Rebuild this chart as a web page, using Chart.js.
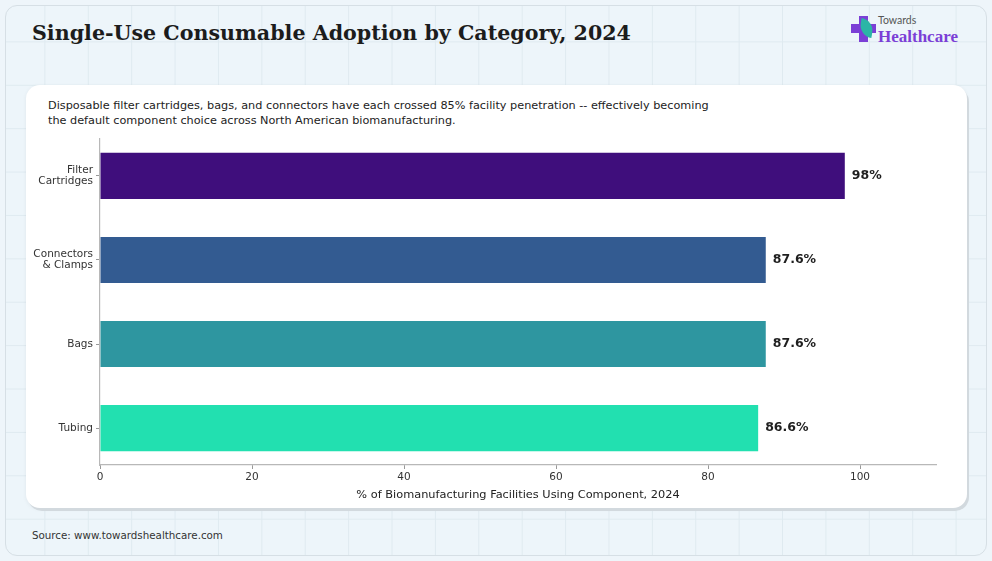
<!DOCTYPE html>
<html>
<head>
<meta charset="utf-8">
<script src="https://cdn.jsdelivr.net/npm/chart.js@4"></script>
<style>
  html, body {
    margin: 0;
    padding: 0;
    width: 992px;
    height: 561px;
    overflow: hidden;
    background: #eef5fa;
    font-family: "DejaVu Sans", sans-serif;
  }

  .frame {
    position: absolute;
    left: 5px;
    top: 5px;
    width: 980px;
    height: 549px;
    border: 1px solid #d6dfe5;
    border-radius: 12px;
    background-color: #edf5fa;
    background-image:
      linear-gradient(to right, #dfeaf0 1px, transparent 1px),
      linear-gradient(to bottom, #dfeaf0 1px, transparent 1px);
    background-size: 43.4px 43.4px;
    background-position: -5px -8px;
  }

  .title {
    position: absolute;
    left: 32px;
    top: 21px;
    font-family: "DejaVu Serif", serif;
    font-weight: bold;
    font-size: 20.6px;
    color: #1c1c1c;
    white-space: nowrap;
  }

  .card {
    position: absolute;
    left: 26px;
    top: 85px;
    width: 941px;
    height: 423px;
    background: #ffffff;
    border-radius: 14px;
    box-shadow: 2px 3px 0 #d2d9de, 0 1px 4px rgba(0,0,0,0.06);
  }

  .subtitle {
    position: absolute;
    left: 48px;
    top: 98px;
    font-size: 11.25px;
    line-height: 15px;
    color: #222;
    white-space: nowrap;
  }

  .source {
    position: absolute;
    left: 32px;
    top: 529px;
    font-size: 10.3px;
    color: #333;
  }

  .logo {
    position: absolute;
    left: 851px;
    top: 14px;
    width: 120px;
    height: 34px;
  }
  .logo .pv, .logo .ph {
    position: absolute;
    background: #7b3fd6;
  }
  .logo .pv { left: 8px; top: 2px; width: 9px; height: 26px; }
  .logo .ph { left: 0; top: 10px; width: 25px; height: 9px; }
  .logo .leaf {
    position: absolute;
    left: 9px;
    top: 5px;
    width: 13px;
    height: 18px;
    background: #2bb5a6;
    border-radius: 0 14px 0 14px;
    transform: rotate(10deg);
  }
  .logo .t1 {
    position: absolute;
    left: 27px;
    top: 0;
    font-family: "Lato", sans-serif;
    font-size: 10.5px;
    color: #555;
  }
  .logo .t2 {
    position: absolute;
    left: 27px;
    top: 13px;
    font-family: "Liberation Serif", serif;
    font-weight: bold;
    font-size: 17px;
    color: #7b3fd6;
  }

  #chart {
    position: absolute;
    left: 0;
    top: 0;
  }
</style>
</head>
<body>

<div class="frame"></div>
<div class="title">Single-Use Consumable Adoption by Category, 2024</div>

<div class="logo">
  <div class="pv"></div>
  <div class="ph"></div>
  <div class="leaf"></div>
  <div class="t1">Towards</div>
  <div class="t2">Healthcare</div>
</div>

<div class="card"></div>
<div class="subtitle">
  Disposable filter cartridges, bags, and connectors have each crossed 85% facility penetration -- effectively becoming<br>
  the default component choice across North American biomanufacturing.
</div>

<div class="source">Source: www.towardshealthcare.com</div>

<canvas id="chart" width="992" height="561"></canvas>

<script>
// data
const categories = [
    ["Filter", "Cartridges"],
    ["Connectors", "& Clamps"],
    ["Bags"],
    ["Tubing"]
];

const adoption = [98, 87.6, 87.6, 86.6];

const barColors = ["#3f0e7c", "#335b91", "#2e96a0", "#22e0b0"];

const xTicks = [0, 20, 40, 60, 80, 100];

const xTitle = "% of Biomanufacturing Facilities Using Component, 2024";

/* ==========================================================
   VALUE LABELS
========================================================== */

const valueLabelPlugin = {

    id: "valueLabels",

    afterDatasetsDraw(chart) {

        const { ctx } = chart;
        const meta = chart.getDatasetMeta(0);

        ctx.save();
        ctx.font = "bold 12.5px 'DejaVu Sans'";
        ctx.fillStyle = "#1f1f1f";
        ctx.textAlign = "left";
        ctx.textBaseline = "middle";

        meta.data.forEach((bar, i) => {
            ctx.fillText(adoption[i] + "%", bar.x + 7, bar.y);
        });

        ctx.restore();
    }

};

const canvas = document.getElementById("chart");

new Chart(canvas, {

    type: "bar",

    data: {
        datasets: [{
            data: adoption.map((v, i) => ({ x: v, y: i })),
            backgroundColor: barColors,
            borderWidth: 0,
            barPercentage: 0.55,
            categoryPercentage: 1
        }]
    },

    options: {

        indexAxis: "y",
        responsive: false,
        animation: false,
        devicePixelRatio: 1,

        layout: {
            padding: { left: 0, right: 56, top: 139, bottom: 59 }
        },

        plugins: {
            legend: { display: false },
            tooltip: { enabled: false }
        },

        scales: {

            x: {
                type: "linear",
                min: 0,
                max: 110,
                offset: false,
                afterBuildTicks(scale) {
                    scale.ticks = xTicks.map(v => ({ value: v }));
                },
                afterFit(scale) {
                    scale.height = 37;
                },
                grid: {
                    drawOnChartArea: false,
                    tickLength: 4,
                    color: "#999"
                },
                border: { color: "#b8b8b8", width: 1.2 },
                ticks: {
                    padding: 2,
                    color: "#333",
                    font: { family: "DejaVu Sans", size: 10.5 }
                },
                title: {
                    display: true,
                    text: xTitle,
                    color: "#222",
                    padding: { top: 4, bottom: 0 },
                    font: { family: "DejaVu Sans", size: 11.35 }
                }
            },

            y: {
                type: "linear",
                reverse: true,
                offset: false,
                min: -0.44,
                max: 3.44,
                afterBuildTicks(scale) {
                    scale.ticks = categories.map((_, i) => ({ value: i }));
                },
                afterFit(scale) {
                    scale.width = 100;
                },
                grid: {
                    drawOnChartArea: false,
                    offset: false,
                    tickLength: 4,
                    color: "#999"
                },
                border: { color: "#b8b8b8", width: 1.2 },
                ticks: {
                    padding: 3,
                    color: "#333",
                    font: { family: "DejaVu Sans", size: 10.5, lineHeight: 1.05 },
                    callback: value => categories[value]
                }
            }

        }

    },

    plugins: [valueLabelPlugin]

});
</script>
</body>
</html>
